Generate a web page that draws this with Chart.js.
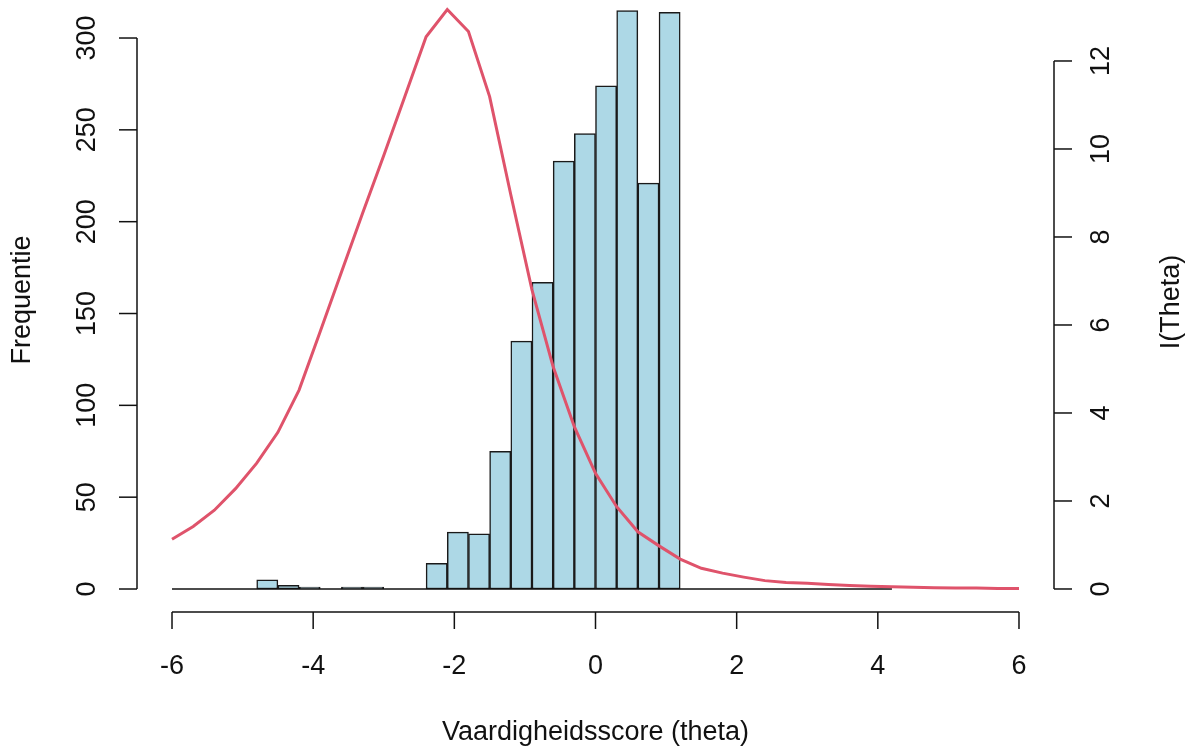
<!DOCTYPE html>
<html>
<head>
<meta charset="utf-8">
<script src="https://cdn.jsdelivr.net/npm/chart.js@4/dist/chart.umd.min.js"></script>
<style>
  html, body { margin: 0; padding: 0; background: #fff; }
  canvas { display: block; }
</style>
</head>
<body>
<canvas id="c" width="1197" height="749"></canvas>
<script>
// ---- data ----
const binStarts = [-6.0, -5.7, -5.4, -5.1, -4.8, -4.5, -4.2, -3.9, -3.6, -3.3, -3.0, -2.7,
                   -2.4, -2.1, -1.8, -1.5, -1.2, -0.9, -0.6, -0.3, 0.0, 0.3, 0.6, 0.9,
                   1.2, 1.5, 1.8, 2.1, 2.4, 2.7, 3.0, 3.3, 3.6, 3.9];
const binWidth = 0.3;
const counts = [0, 0, 0, 0, 5, 2, 1, 0, 1, 1, 0, 0,
                14, 31, 30, 75, 135, 167, 233, 248, 274, 315, 221, 314,
                0, 0, 0, 0, 0, 0, 0, 0, 0, 0];

const thetaGrid = [-6.0, -5.7, -5.4, -5.1, -4.8, -4.5, -4.2, -3.9, -3.6, -3.3, -3.0, -2.7, -2.4,
                   -2.1, -1.8, -1.5, -1.2, -0.9, -0.6, -0.3, 0.0, 0.3, 0.6, 0.9, 1.2, 1.5,
                   1.8, 2.1, 2.4, 2.7, 3.0, 3.3, 3.6, 3.9, 4.2, 4.5, 4.8, 5.1, 5.4, 5.7, 6.0];
const information = [1.13, 1.42, 1.79, 2.28, 2.86, 3.56, 4.52, 5.85, 7.2, 8.54, 9.85, 11.2, 12.55,
                     13.17, 12.67, 11.19, 8.96, 6.8, 5.05, 3.69, 2.63, 1.87, 1.30, 0.98, 0.68, 0.47,
                     0.36, 0.27, 0.19, 0.15, 0.13, 0.10, 0.08, 0.06, 0.05, 0.04, 0.03, 0.02, 0.02, 0.01, 0.01];

const xTicks = [-6, -4, -2, 0, 2, 4, 6];
const freqTicks = [0, 50, 100, 150, 200, 250, 300];
const infoTicks = [0, 2, 4, 6, 8, 10, 12];

const xTitle = 'Vaardigheidsscore (theta)';
const yTitle = 'Frequentie';
const y2Title = 'I(Theta)';

// ---- build datasets ----
const barData = binStarts.map((s, i) => ({ x: s + binWidth / 2, y: counts[i] }));
const lineData = thetaGrid.map((t, i) => ({ x: t, y: information[i] }));

const FONT = '27px "Liberation Sans", Arial, sans-serif';
const INK = '#111';

function seg(ctx, x1, y1, x2, y2) {
  ctx.beginPath(); ctx.moveTo(x1, y1); ctx.lineTo(x2, y2); ctx.stroke();
}
function vText(ctx, txt, cx, cy) {
  ctx.save();
  ctx.translate(cx, cy);
  ctx.rotate(-Math.PI / 2);
  ctx.textAlign = 'center';
  ctx.textBaseline = 'middle';
  ctx.fillText(txt, 0, 0);
  ctx.restore();
}

const rAxes = {
  id: 'rAxes',
  afterDatasetDraw(chart, args) {
    if (args.index !== 0) return;
    const { ctx, scales: { x, y } } = chart;
    const yb = y.getPixelForValue(0);
    ctx.save();
    ctx.strokeStyle = INK; ctx.lineWidth = 1.5;
    seg(ctx, x.getPixelForValue(binStarts[0]), yb,
        x.getPixelForValue(binStarts[binStarts.length - 1] + binWidth), yb);
    ctx.restore();
  },
  afterDraw(chart) {
    const { ctx, chartArea: ca, scales: { x, y, y2 } } = chart;
    ctx.save();
    ctx.strokeStyle = INK; ctx.fillStyle = INK; ctx.lineWidth = 1.5;
    ctx.font = FONT;
    const by = ca.bottom;
    seg(ctx, x.getPixelForValue(xTicks[0]), by, x.getPixelForValue(xTicks[xTicks.length - 1]), by);
    ctx.textAlign = 'center'; ctx.textBaseline = 'middle';
    xTicks.forEach(t => {
      const px = x.getPixelForValue(t);
      seg(ctx, px, by, px, by + 17);
      ctx.fillText(String(t), px, by + 55);
    });
    ctx.fillText(xTitle, (ca.left + ca.right) / 2, by + 121);
    const lx = ca.left;
    seg(ctx, lx, y.getPixelForValue(freqTicks[0]), lx, y.getPixelForValue(freqTicks[freqTicks.length - 1]));
    freqTicks.forEach(t => {
      const py = y.getPixelForValue(t);
      seg(ctx, lx, py, lx - 18, py);
      vText(ctx, String(t), lx - 49, py);
    });
    vText(ctx, yTitle, 23, 300);
    const rx = ca.right;
    seg(ctx, rx, y2.getPixelForValue(infoTicks[0]), rx, y2.getPixelForValue(infoTicks[infoTicks.length - 1]));
    infoTicks.forEach(t => {
      const py = y2.getPixelForValue(t);
      seg(ctx, rx, py, rx + 18, py);
      vText(ctx, String(t), rx + 48, py);
    });
    vText(ctx, y2Title, 1172, 302);
    ctx.restore();
  }
};

new Chart(document.getElementById('c'), {
  type: 'bar',
  data: {
    datasets: [
      {
        type: 'bar',
        data: barData,
        backgroundColor: '#ADD8E6',
        borderColor: '#1a1a1a',
        borderWidth: 1.5,
        borderSkipped: false,
        barPercentage: 1.0,
        categoryPercentage: 1.0,
        xAxisID: 'x',
        yAxisID: 'y',
        order: 2
      },
      {
        type: 'line',
        data: lineData,
        borderColor: '#DF536B',
        borderWidth: 3,
        pointRadius: 0,
        tension: 0,
        fill: false,
        xAxisID: 'x',
        yAxisID: 'y2',
        order: 1
      }
    ]
  },
  options: {
    responsive: false,
    animation: false,
    events: [],
    layout: { padding: { left: 137, right: 143, top: 0, bottom: 137 } },
    plugins: { legend: { display: false }, tooltip: { enabled: false } },
    scales: {
      x: { type: 'linear', display: false, min: -6.496, max: 6.496, offset: false },
      y: { type: 'linear', display: false, min: -12.52, max: 320.7 },
      y2: { type: 'linear', display: false, position: 'right', min: -0.523, max: 13.386 }
    }
  },
  plugins: [rAxes]
});
</script>
</body>
</html>
